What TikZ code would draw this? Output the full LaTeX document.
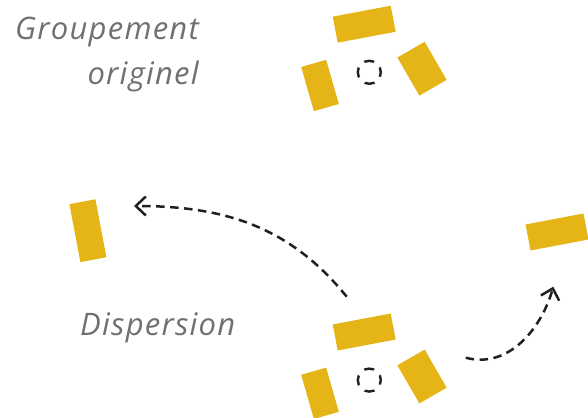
\documentclass[tikz,border=0pt]{standalone}
\usepackage{fontspec}
\setmainfont{Open Sans}[LetterSpace=4]
\usetikzlibrary{arrows.meta}
\usetikzlibrary{positioning}
\definecolor{jaune}{RGB}{229,181,24}
\definecolor{encre}{RGB}{35,31,32}
\definecolor{gris}{RGB}{112,112,112}

\begin{document}
\begin{tikzpicture}[
    x=1pt, y=1pt,
    font=\itshape\fontsize{31}{35}\selectfont
]
\tikzset{
    brique/.style = {rectangle, fill=jaune, inner sep=0pt},
    longue/.style = {brique, minimum width=59pt, minimum height=26.5pt, rotate=10.7},
    debout/.style = {brique, minimum width=26.5pt, minimum height=59pt, rotate=10.7},
    gauche/.style = {brique, minimum width=26pt, minimum height=46pt, rotate=16},
    droite/.style = {brique, minimum width=31.5pt, minimum height=44pt, rotate=30},
    centre/.style = {circle, draw=encre, line width=2.4pt, inner sep=0pt, minimum size=23pt,
                     dash pattern=on 10pt off 8.06pt, dash phase=5pt},
    legende/.style = {text=gris, inner sep=0pt},
    fleche/.style = {-{Straight Barb[length=10pt,width=19pt]}, draw=encre, line width=2.5pt,
                     dash pattern=on 8.5pt off 5.5pt}
}
\useasboundingbox (0,0) rectangle (588,417);
% groupement originel
\node[longue] at (364.2,392.8) (haut1) {};
\node[gauche] at (320.0,331.5) (gau1) {};
\node[droite] at (422.0,348.3) (dro1) {};
\node[centre] at (369.3,344.7) (c1) {};
% dispersion
\node[longue] at (364.2,85.0) (haut2) {};
\node[gauche] at (320.0,23.7) (gau2) {};
\node[droite] at (422.0,40.5) (dro2) {};
\node[centre] at (369.3,36.9) (c2) {};
\node[debout] at (87.9,186.3) (isolg) {};
\node[longue] at (557.0,185.0) (isold) {};
% textes
\node[legende, anchor=base east] at (199,377) (grp) {Groupement};
\node[legende, anchor=base east] at (199,332) (orig) {originel};
\node[legende, anchor=base west] at (80,81) (disp) {Dispersion};
% fleches
\coordinate (d1) at (346.7,120.3);
\coordinate (a1) at (134.0,211.0);
\coordinate (d2) at (465.7,59.3);
\coordinate (a2) at (553.3,130.3);
\draw[fleche] (d1) to[out=129, in=0] (a1);
\draw[fleche] (d2) to[out=-15, in=254] (a2);
\end{tikzpicture}
\end{document}
